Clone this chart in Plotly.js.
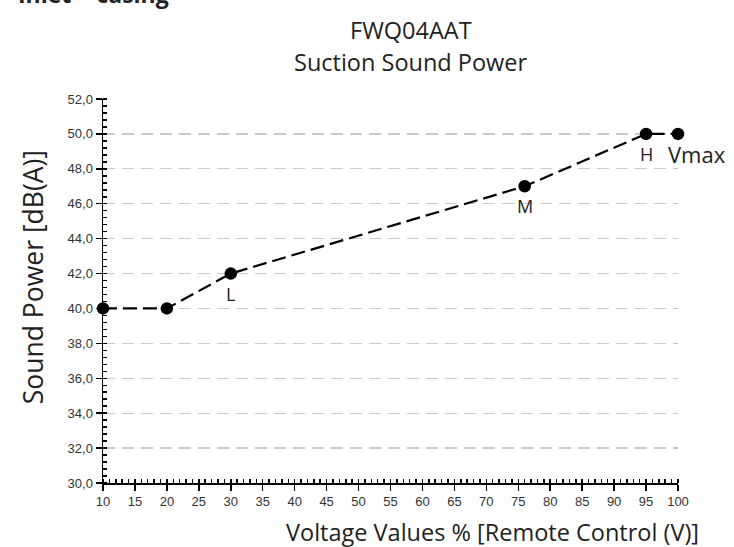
<!DOCTYPE html>
<html>
<head>
<meta charset="utf-8">
<script src="https://cdn.plot.ly/plotly-3.0.1.min.js"></script>
<style>html,body{margin:0;padding:0;background:#fff;}#chart{width:734px;height:547px;}</style>
</head>
<body>
<div id="chart"></div>
<script>
// Data
var voltagePct = [10, 20, 30, 76, 95, 100];
var soundPower = [40, 40, 42, 47, 50, 50];
var pointLabels = ['', '', 'L', 'M', 'H', 'Vmax'];
var xTickVals = [10,15,20,25,30,35,40,45,50,55,60,65,70,75,80,85,90,95,100];
var yTickVals = [30,32,34,36,38,40,42,44,46,48,50,52];

var chartTitle1 = 'FWQ04AAT';
var chartTitle2 = 'Suction Sound Power';
var sectionTitle = 'Inlet + casing';
var xTitle = 'Voltage Values % [Remote Control (V)]';
var yTitle = 'Sound Power [dB(A)]';

var titleFont = 'Open Sans, Noto Sans, sans-serif';
var tickFont = 'Liberation Sans, Arial, sans-serif';

var trace = {
  x: voltagePct, y: soundPower,
  type: 'scatter', mode: 'lines+markers',
  line: {color: '#000', width: 2.2, dash: '14px,6px'},
  marker: {color: '#000', size: 12.5},
  hoverinfo: 'none', showlegend: false, cliponaxis: false
};

var annotations = [];
for (var i = 0; i < pointLabels.length; i++) {
  if (!pointLabels[i]) continue;
  var isV = pointLabels[i] === 'Vmax';
  annotations.push({
    x: voltagePct[i], y: soundPower[i], xref: 'x', yref: 'y',
    text: pointLabels[i], showarrow: false,
    xanchor: isV ? 'left' : 'center', yanchor: 'middle',
    xshift: isV ? -12 : 0, yshift: -20,
    font: {family: titleFont, size: isV ? 22 : 18, color: '#222'}
  });
}
annotations.push(
  {xref:'paper', yref:'paper', x:0.5365, y:1.180, text: chartTitle1, showarrow:false, xanchor:'center', yanchor:'middle', font:{family:titleFont, size:23.5, color:'#222'}},
  {xref:'paper', yref:'paper', x:0.5365, y:1.096, text: chartTitle2, showarrow:false, xanchor:'center', yanchor:'middle', font:{family:titleFont, size:23.5, color:'#222'}},
  {xref:'paper', yref:'paper', x:-0.151, y:1.227, text: '<b>' + sectionTitle + '</b>', showarrow:false, xanchor:'left', yanchor:'bottom', font:{family:titleFont, size:23, color:'#222'}},
  {xref:'paper', yref:'paper', x:-0.1217, y:0.536, text: yTitle, showarrow:false, textangle:-90, xanchor:'center', yanchor:'middle', font:{family:titleFont, size:26.5, color:'#222'}},
  {xref:'paper', yref:'paper', x:0.678, y:-0.127, text: xTitle, showarrow:false, xanchor:'center', yanchor:'middle', font:{family:titleFont, size:23.5, color:'#222'}}
);

var layout = {
  width: 734, height: 547,
  margin: {l: 103, r: 56, t: 99, b: 64},
  paper_bgcolor: '#fff', plot_bgcolor: '#fff',
  separators: ', ',
  xaxis: {
    range: [10, 100], tickvals: xTickVals, ticktext: xTickVals.map(String),
    showline: true, linecolor: '#000', linewidth: 1.5,
    ticks: 'outside', ticklen: 6, tickcolor: '#000', tickwidth: 1.5,
    showgrid: false, zeroline: false,
    tickfont: {family: tickFont, size: 13, color: '#333'},
    minor: {dtick: 1, ticks: 'inside', ticklen: 4, tickcolor: '#000', tickwidth: 1.5, showgrid: false}
  },
  yaxis: {
    range: [30, 52], tickvals: yTickVals, tickformat: '.1f',
    showline: true, linecolor: '#000', linewidth: 1.5,
    ticks: 'outside', ticklen: 6, tickcolor: '#000', tickwidth: 1.5,
    showgrid: true, gridcolor: '#cacaca', gridwidth: 1.2, griddash: '12px,7px',
    zeroline: false,
    tickfont: {family: tickFont, size: 13, color: '#333'},
    minor: {dtick: 0.4, ticks: 'inside', ticklen: 4, tickcolor: '#000', tickwidth: 1.5, showgrid: false}
  },
  annotations: annotations
};

Plotly.newPlot('chart', [trace], layout, {staticPlot: true, displayModeBar: false});
</script>
</body>
</html>
